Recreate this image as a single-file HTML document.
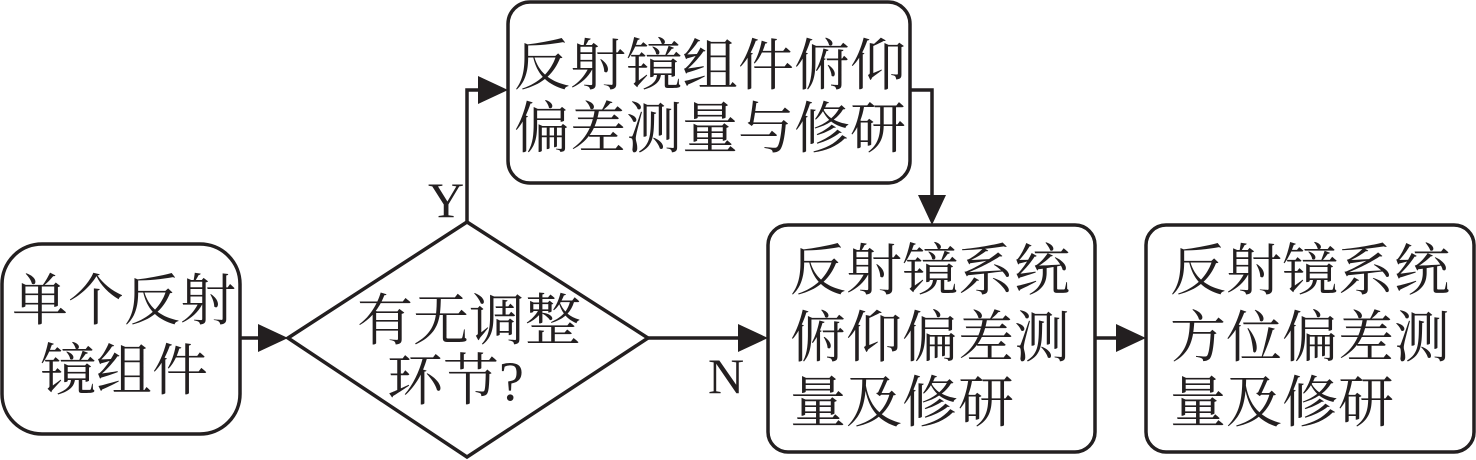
<!DOCTYPE html>
<html><head><meta charset="utf-8"><style>
html,body{margin:0;padding:0;background:#fff;width:1476px;height:460px;overflow:hidden}
svg{display:block}
text{font-family:"Liberation Serif","Noto Serif CJK SC",serif;fill:#231f20}
</style></head><body>
<svg width="1476" height="460" viewBox="0 0 1476 460" xmlns="http://www.w3.org/2000/svg">
<defs><marker id="a" markerWidth="10" markerHeight="10" refX="9" refY="5" orient="auto" markerUnits="userSpaceOnUse" viewBox="0 0 10 10"><path d="M0,0 L10,5 L0,10 Z" fill="#231f20"/></marker></defs>
<g fill="none" stroke="#231f20" stroke-width="3.5">
<rect x="2" y="244" width="238" height="190" rx="40"/>
<polygon points="288,338 467,222 648,338 467,457"/>
<rect x="508" y="2" width="402" height="181" rx="22"/>
<rect x="768" y="225" width="327" height="227" rx="20"/>
<rect x="1146" y="225" width="328" height="227" rx="20"/>
</g>
<g stroke="#231f20" stroke-width="3.5" fill="none">
<line x1="240" y1="338" x2="262" y2="338"/>
<line x1="648" y1="338" x2="742" y2="338"/>
<line x1="1095" y1="338" x2="1120" y2="338"/>
<polyline points="467,222 467,90 482,90"/>
<polyline points="910,90 932,90 932,200"/>
</g>
<g fill="#231f20">
<path d="M288,338 L258,324 L258,352 Z"/>
<path d="M768,338 L738,324 L738,352 Z"/>
<path d="M1146,338 L1116,324 L1116,352 Z"/>
<path d="M508,90 L478,76 L478,104 Z"/>
<path d="M932,225 L918,195 L946,195 Z"/>
</g>
<g font-size="56">
<text x="12" y="320">单个反射</text>
<text x="40" y="390">镜组件</text>
<text x="357" y="340">有无调整</text>
<text x="387" y="400">环节?</text>
<text x="514" y="85">反射镜组件俯仰</text>
<text x="514" y="148">偏差测量与修研</text>
<text x="790" y="290">反射镜系统</text>
<text x="790" y="357">俯仰偏差测</text>
<text x="790" y="422">量及修研</text>
<text x="1170" y="290">反射镜系统</text>
<text x="1170" y="357">方位偏差测</text>
<text x="1170" y="422">量及修研</text>
</g>
<g font-size="50">
<text x="428" y="217">Y</text>
<text x="708" y="393">N</text>
</g>
</svg>
</body></html>
